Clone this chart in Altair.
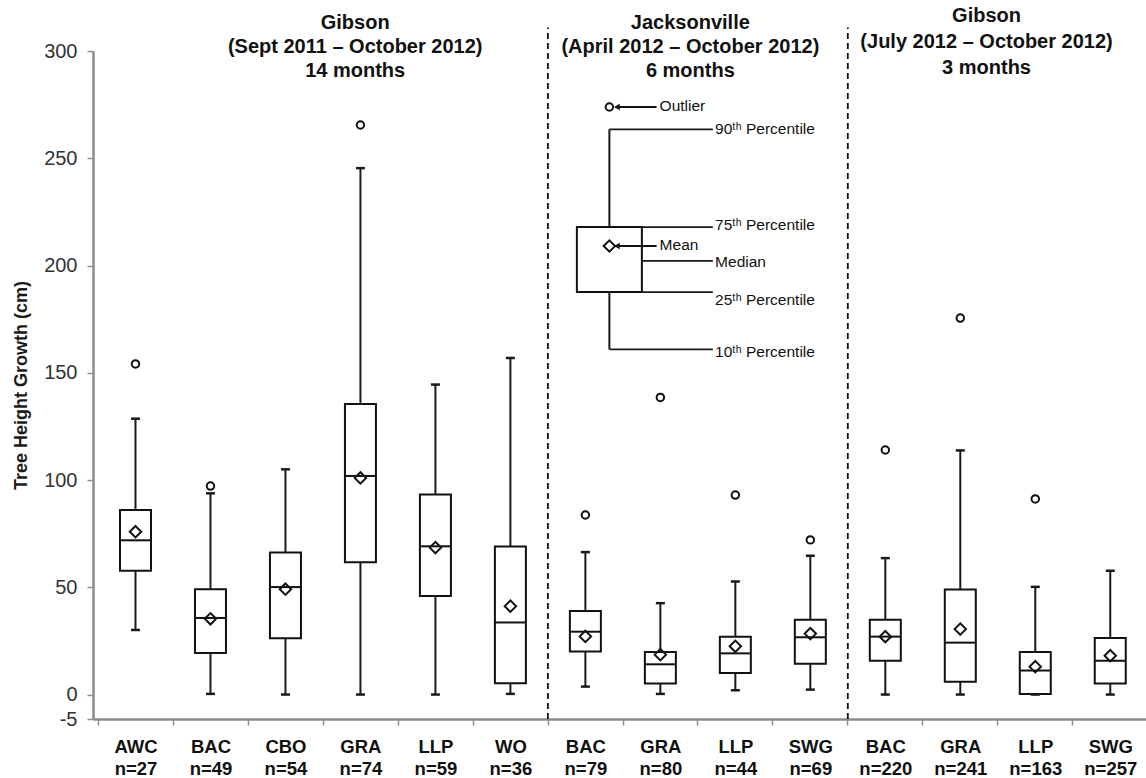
import altair as alt
import pandas as pd

# ---------------- data ----------------
species = ["AWC", "BAC", "CBO", "GRA", "LLP", "WO",
           "BAC", "GRA", "LLP", "SWG",
           "BAC", "GRA", "LLP", "SWG"]
n_labels = ["n=27", "n=49", "n=54", "n=74", "n=59", "n=36",
            "n=79", "n=80", "n=44", "n=69",
            "n=220", "n=241", "n=163", "n=257"]
p10 = [30.1, 0.3, 0.0, 0.0, 0.0, 0.3, 3.7, 0.3, 2.0, 2.3, 0.0, 0.0, 0.0, 0.0]
q1 = [57.7, 19.4, 26.2, 61.7, 45.9, 5.3, 20.1, 5.1, 10.1, 14.4, 15.8, 6.0, 0.3, 5.1]
median = [71.9, 35.7, 50.1, 101.9, 69.1, 33.6, 29.3, 14.1, 19.2, 26.7, 27.0, 24.2, 11.2, 15.8]
q3 = [86.0, 49.1, 66.2, 135.5, 93.2, 69.0, 38.9, 19.8, 27.0, 34.9, 34.9, 49.0, 19.8, 26.4]
p90 = [128.6, 93.8, 105.0, 245.4, 144.5, 156.9, 66.4, 42.6, 52.7, 64.7, 63.6, 113.8, 50.2, 57.7]
mean = [75.9, 35.3, 49.1, 101.0, 68.5, 41.2, 27.1, 18.6, 22.5, 28.4, 27.0, 30.5, 13.0, 18.1]
outlier = [154.1, 97.2, None, 265.5, None, None, 83.7, 138.5, 93.0, 72.1, 114.0, 175.5, 91.2, None]

y_tick_values = [0, 50, 100, 150, 200, 250, 300]
y_bottom_label = "-5"

group_titles = [
    ["Gibson", "(Sept 2011 \u2013 October 2012)", "14 months"],
    ["Jacksonville", "(April 2012 \u2013 October 2012)", "6 months"],
    ["Gibson", "(July 2012 \u2013 October 2012)", "3 months"],
]
separators = [5.5, 9.5]

# legend (explanatory box) statistics
legend_stats = dict(p10=160.9, q1=187.6, median=202.2, q3=217.9, p90=263.5,
                    mean=209.1, outlier=273.9)
legend_labels = ["90\u1d57\u02b0 Percentile", "75\u1d57\u02b0 Percentile", "Median",
                 "25\u1d57\u02b0 Percentile", "10\u1d57\u02b0 Percentile"]

# ---------------- layout / style ----------------
XD = [-0.5, 13.41]
YD = [-11.4, 300]
W, H = 1053, 668
band = W / (XD[1] - XD[0])
NARROW = "Liberation Sans Narrow, Arial Narrow, Liberation Sans"
SANS = "Liberation Sans, Arial"

xs = alt.Scale(domain=XD, nice=False, zero=False)
ys = alt.Scale(domain=YD, nice=False, zero=False)

idx = list(range(len(species)))
names_js = "[" + ",".join("'%s'" % s for s in species) + "]"
ns_js = "[" + ",".join("'%s'" % s for s in n_labels) + "]"

x_axis = alt.Axis(
    values=idx, tickOffset=-band / 2, labelOffset=band / 2,
    labelExpr="[%s[datum.value], %s[datum.value]]" % (names_js, ns_js),
    labelFont=NARROW, labelFontSize=18.5, labelFontWeight="bold", labelColor="#111",
    labelPadding=12, labelLineHeight=22, labelFlush=False, labelOverlap=False,
    labelBound=False, tickSize=6, tickColor="#8c8c8c", tickWidth=1.5,
    domainColor="#8c8c8c", domainWidth=2.5, grid=False, title=None,
)
y_axis = alt.Axis(
    values=[YD[0]] + y_tick_values,
    labelExpr="datum.value < 0 ? '%s' : datum.label" % y_bottom_label, format="d",
    labelFont=SANS, labelFontSize=20, labelColor="#333", labelPadding=10,
    tickSize=6, tickColor="#8c8c8c", tickWidth=1.5,
    domainColor="#8c8c8c", domainWidth=2.5, grid=False,
    title="Tree Height Growth (cm)", titleFont=SANS, titleFontSize=18,
    titleFontWeight="bold", titleColor="#1a1a1a", titlePadding=13,
)


def X(f, **kw):
    return alt.X(f, type="quantitative", scale=xs, axis=x_axis, **kw)


def Y(f, **kw):
    return alt.Y(f, type="quantitative", scale=ys, axis=y_axis, **kw)


df = pd.DataFrame(dict(idx=idx, p10=p10, q1=q1, median=median, q3=q3, p90=p90, mean=mean))
out_df = pd.DataFrame([(i, v) for i, v in zip(idx, outlier) if v is not None],
                      columns=["idx", "val"])

base = alt.Chart(df)

boxes = base.mark_bar(size=31, fill="white", stroke="#111", strokeWidth=2).encode(
    x=X("idx"), y=Y("q1"), y2="q3")
whisk_lo = base.mark_rule(strokeWidth=2, color="#1a1a1a").encode(
    x=X("idx"), y=Y("p10"), y2="q1")
whisk_hi = base.mark_rule(strokeWidth=2, color="#1a1a1a").encode(
    x=X("idx"), y=Y("q3"), y2="p90")
meds = base.mark_tick(orient="horizontal", size=31, thickness=2, color="#111", opacity=1).encode(
    x=X("idx"), y=Y("median"))
cap_lo = base.mark_tick(orient="horizontal", size=9, thickness=2.5, color="#1a1a1a", opacity=1).encode(
    x=X("idx"), y=Y("p10"))
cap_hi = base.mark_tick(orient="horizontal", size=9, thickness=2.5, color="#1a1a1a", opacity=1).encode(
    x=X("idx"), y=Y("p90"))
means = base.mark_point(shape="diamond", size=130, filled=False, stroke="#111",
                        strokeWidth=2, opacity=1).encode(x=X("idx"), y=Y("mean"))
outs = alt.Chart(out_df).mark_point(shape="circle", size=56, filled=False, stroke="#111",
                                    strokeWidth=2, opacity=1).encode(x=X("idx"), y=Y("val"))

sep_df = pd.DataFrame(dict(x=separators, y=[YD[0]] * len(separators), y2=[311] * len(separators)))
seps = alt.Chart(sep_df).mark_rule(strokeDash=[6, 4], strokeWidth=1.8, color="#111").encode(
    x=X("x"), y=Y("y"), y2="y2")

# group titles (one row per line)
title_x = [2.93, 7.40, 11.35]
title_top = [313.0, 313.0, 316.3]
title_step = [11.2, 11.2, 12.1]
rows = []
for g, lines in enumerate(group_titles):
    for k, t in enumerate(lines):
        rows.append(dict(x=title_x[g], y=title_top[g] - k * title_step[g], t=t))
titles = alt.Chart(pd.DataFrame(rows)).mark_text(
    font=NARROW, fontSize=20, fontWeight="bold", color="#111", baseline="middle").encode(
    x=X("x"), y=Y("y"), text="t:N")

# ---------------- legend box ----------------
LX, LL, LR, LE, AR0, AR1, TX = 6.32, 5.894, 6.752, 7.70, 6.42, 6.95, 6.99
ls = legend_stats
leg_w = alt.Chart(pd.DataFrame(dict(x=[LX, LX], y=[ls["p10"], ls["q3"]], y2=[ls["q1"], ls["p90"]]))
                  ).mark_rule(strokeWidth=2, color="#1a1a1a").encode(x=X("x"), y=Y("y"), y2="y2")
leg_box = alt.Chart(pd.DataFrame(dict(x=[LX], y=[ls["q1"]], y2=[ls["q3"]]))).mark_bar(
    size=65, fill="white", stroke="#111", strokeWidth=2).encode(x=X("x"), y=Y("y"), y2="y2")
hl = pd.DataFrame(dict(
    x=[LX, LR, LL, LR, LX],
    x2=[LE] * 5,
    y=[ls["p90"], ls["q3"], ls["median"], ls["q1"], ls["p10"]]))
leg_lines = alt.Chart(hl).mark_rule(strokeWidth=1.8, color="#1a1a1a").encode(
    x=X("x"), x2="x2", y=Y("y"))
leg_mean = alt.Chart(pd.DataFrame(dict(x=[LX], y=[ls["mean"]]))).mark_point(
    shape="diamond", size=130, filled=False, stroke="#111", strokeWidth=2, opacity=1).encode(
    x=X("x"), y=Y("y"))
leg_out = alt.Chart(pd.DataFrame(dict(x=[LX], y=[ls["outlier"]]))).mark_point(
    shape="circle", size=56, filled=False, stroke="#111", strokeWidth=2, opacity=1).encode(
    x=X("x"), y=Y("y"))
arr_df = pd.DataFrame(dict(x=[AR0, AR0], x2=[AR1, AR1], y=[ls["outlier"], ls["mean"]]))
arrows = alt.Chart(arr_df).mark_rule(strokeWidth=1.8, color="#111").encode(
    x=X("x"), x2="x2", y=Y("y"))
heads = alt.Chart(arr_df).mark_point(shape="triangle-left", size=45, filled=True,
                                     color="#111", opacity=1).encode(x=X("x"), y=Y("y"))
lt = pd.DataFrame(dict(
    x=[TX, TX] + [LE + 0.03] * 5,
    y=[ls["outlier"] + 0.4, ls["mean"] + 0.4, 263.6, 218.8, 201.6, 184.0, 159.7],
    t=["Outlier", "Mean"] + legend_labels))
leg_text = alt.Chart(lt).mark_text(font=NARROW, fontSize=15.5, color="#111", align="left",
                                   baseline="middle").encode(x=X("x"), y=Y("y"), text="t:N")

chart = alt.layer(
    boxes, whisk_lo, whisk_hi, meds, cap_lo, cap_hi, means, outs, seps, titles,
    leg_w, leg_lines, leg_box, leg_mean, leg_out, arrows, heads, leg_text,
).properties(
    width=W, height=H,
    background="white",
    autosize=alt.AutoSizeParams(type="none"),
    padding={"left": 93, "top": 51, "right": 0, "bottom": 59},
).configure_view(stroke=None)

chart.save("out.html", embed_options={"renderer": "svg", "actions": False})
